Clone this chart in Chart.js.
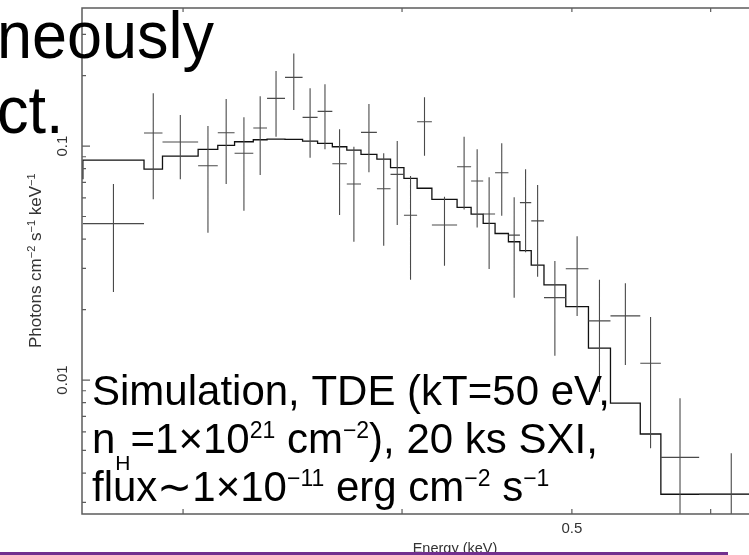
<!DOCTYPE html>
<html>
<head>
<meta charset="utf-8">
<script src="https://cdn.jsdelivr.net/npm/chart.js@4.4.1/dist/chart.umd.min.js"></script>
<style>
	html, body { margin: 0; padding: 0; background: #fff; overflow: hidden; }
	#wrap { position: relative; width: 749px; height: 555px; overflow: hidden; }
	#chart { position: absolute; left: 0; top: 0; }
	#bar { position: absolute; left: 0; top: 552px; width: 728px; height: 3px; background: #72308f; }
</style>
</head>
<body>
<div id="wrap">
	<canvas id="chart" width="830" height="555"></canvas>
	<div id="bar"></div>
</div>
<script>
// energy bins (keV), model and simulated data (photons cm^-2 s^-1 keV^-1)
const binEdges = [0.263, 0.285, 0.292, 0.306, 0.314, 0.321, 0.329, 0.335, 0.343, 0.351, 0.358, 0.365, 0.372, 0.379, 0.387, 0.394, 0.401, 0.408, 0.416, 0.430, 0.438, 0.445, 0.452, 0.460, 0.467, 0.474, 0.482, 0.496, 0.511, 0.526, 0.547, 0.562, 0.591, 0.643];
const modelFlux = [0.0721, 0.0871, 0.0797, 0.0906, 0.0968, 0.1007, 0.1043, 0.1064, 0.1071, 0.1068, 0.1050, 0.1027, 0.0993, 0.0961, 0.0921, 0.0880, 0.0808, 0.0728, 0.0660, 0.0592, 0.0547, 0.0512, 0.0467, 0.0423, 0.0390, 0.0357, 0.0310, 0.0255, 0.0206, 0.0137, 0.00796, 0.00588, 0.00325];
const dataFlux = [0.0466, 0.1137, 0.104, 0.0824, 0.114, 0.0931, 0.1194, 0.1599, 0.1966, 0.1326, 0.1407, 0.084, 0.0688, 0.1144, 0.0657, 0.0757, 0.0506, 0.127, 0.046, 0.0816, 0.0709, 0.0512, 0.0769, 0.0416, 0.0573, 0.0479, 0.0225, 0.0299, 0.0179, 0.0188, 0.0118, 0.00467, 0.00325];
const dataHigh = [0.0688, 0.168, 0.1357, 0.1217, 0.1588, 0.1326, 0.1631, 0.2092, 0.2489, 0.1765, 0.1835, 0.1179, 0.0993, 0.1512, 0.0931, 0.105, 0.0744, 0.1615, 0.0607, 0.1096, 0.0968, 0.0735, 0.1027, 0.0604, 0.0795, 0.0681, 0.0323, 0.0412, 0.0268, 0.0259, 0.0186, 0.00835, 0.00486];
const dataLow = [0.0238, 0.0592, 0.0721, 0.0426, 0.0688, 0.0529, 0.0752, 0.1096, 0.1425, 0.0891, 0.0968, 0.0507, 0.039, 0.0772, 0.0375, 0.046, 0.0268, 0.0909, 0.0308, 0.0536, 0.0449, 0.0298, 0.0504, 0.0225, 0.0352, 0.0276, 0.0127, 0.0188, 0.0089, 0.0116, 0.00511, 0.002, 0.002];

const xRange = [0.2627, 0.70];
const yRange = [0.002676, 0.389];
const xTicks = [0.3, 0.4, 0.5, 0.6];
const xLabels = [0.5];
const yMajor = [0.01, 0.1];
const yMinor = [0.003, 0.004, 0.005, 0.006, 0.007, 0.008, 0.009, 0.02, 0.03, 0.04, 0.05, 0.06, 0.07, 0.08, 0.09, 0.2, 0.3];

const sans = "'Liberation Sans', Arial, sans-serif";

function modelSteps() {
	const pts = modelFlux.map((y, i) => ({ x: binEdges[i], y }));
	pts.push({ x: binEdges[binEdges.length - 1], y: modelFlux[modelFlux.length - 1] });
	return pts;
}

function crosses() {
	const pts = [];
	dataFlux.forEach((y, i) => {
		const lo = binEdges[i];
		const hi = binEdges[i + 1];
		const mid = Math.sqrt(lo * hi);
		pts.push({ x: lo, y }, { x: hi, y }, { x: hi, y: null });
		pts.push({ x: mid, y: dataLow[i] }, { x: mid, y: dataHigh[i] }, { x: mid, y: null });
	});
	return pts;
}

// draws text pieces one after another (for super/subscripts)
function drawRuns(ctx, x, y, runs) {
	let cx = x;
	runs.forEach((r) => {
		ctx.font = r.s + "px " + sans;
		ctx.fillText(r.t, cx, y + (r.dy || 0));
		cx += ctx.measureText(r.t).width;
	});
}

const decor = {
	id: "decor",
	afterDatasetsDraw(chart) {
		const { ctx, chartArea: a } = chart;
		const x = chart.scales.x;
		const y = chart.scales.y;
		ctx.save();

		// frame and inward ticks
		ctx.strokeStyle = "#5c5c5c";
		ctx.lineWidth = 1.5;
		ctx.beginPath();
		ctx.moveTo(a.right, a.top);
		ctx.lineTo(a.left, a.top);
		ctx.lineTo(a.left, a.bottom);
		ctx.lineTo(a.right, a.bottom);
		ctx.stroke();
		ctx.lineWidth = 1.2;
		ctx.beginPath();
		xTicks.forEach((v) => {
			const px = x.getPixelForValue(v);
			ctx.moveTo(px, a.bottom);
			ctx.lineTo(px, a.bottom - 5);
			ctx.moveTo(px, a.top);
			ctx.lineTo(px, a.top + 4);
		});
		yMajor.forEach((v) => {
			const py = y.getPixelForValue(v);
			ctx.moveTo(a.left, py);
			ctx.lineTo(a.left + 8, py);
		});
		yMinor.forEach((v) => {
			const py = y.getPixelForValue(v);
			ctx.moveTo(a.left, py);
			ctx.lineTo(a.left + 4, py);
		});
		ctx.stroke();

		// tick labels
		ctx.fillStyle = "#333";
		ctx.textAlign = "center";
		ctx.font = "15px " + sans;
		xLabels.forEach((v) => ctx.fillText(String(v), x.getPixelForValue(v), 533));
		yMajor.forEach((v) => {
			ctx.save();
			ctx.translate(a.left - 15, y.getPixelForValue(v));
			ctx.rotate(-Math.PI / 2);
			ctx.fillText(String(v), 0, 0);
			ctx.restore();
		});

		// axis titles
		ctx.font = "14.5px " + sans;
		ctx.fillText("Energy (keV)", (a.left + a.right) / 2, 553);
		ctx.textAlign = "left";
		ctx.save();
		ctx.translate(41, 348);
		ctx.rotate(-Math.PI / 2);
		drawRuns(ctx, 0, 0, [
			{ t: "Photons cm", s: 17 },
			{ t: "−2", s: 11, dy: -6 },
			{ t: " s", s: 17 },
			{ t: "−1", s: 11, dy: -6 },
			{ t: " keV", s: 17 },
			{ t: "−1", s: 11, dy: -6 },
		]);
		ctx.restore();

		// slide text lying over the figure
		ctx.fillStyle = "#000";
		ctx.font = "67px " + sans;
		ctx.save();
		ctx.translate(-3, 58);
		ctx.scale(0.94, 1);
		ctx.fillText("neously", 0, 0);
		ctx.restore();
		ctx.save();
		ctx.translate(-3, 133);
		ctx.scale(0.94, 1);
		ctx.fillText("ct.", 0, 0);
		ctx.restore();

		drawRuns(ctx, 92, 405, [{ t: "Simulation, TDE (kT=50 eV,", s: 42 }]);
		drawRuns(ctx, 92, 453, [
			{ t: "n", s: 42 },
			{ t: "H", s: 21, dy: 17 },
			{ t: "=1×10", s: 42 },
			{ t: "21", s: 23, dy: -15 },
			{ t: " cm", s: 42 },
			{ t: "−2", s: 23, dy: -15 },
			{ t: "), 20 ks SXI,", s: 42 },
		]);
		drawRuns(ctx, 92, 501, [
			{ t: "flux∼1×10", s: 42 },
			{ t: "−11", s: 23, dy: -15 },
			{ t: " erg cm", s: 42 },
			{ t: "−2", s: 23, dy: -15 },
			{ t: " s", s: 42 },
			{ t: "−1", s: 23, dy: -15 },
		]);
		ctx.restore();
	},
};

const ctx = document.getElementById("chart").getContext("2d");
new Chart(ctx, {
	type: "line",
	data: {
		datasets: [
			{
				data: crosses(),
				borderColor: "#4a4a4a",
				borderWidth: 1.1,
				pointRadius: 0,
				spanGaps: false,
				fill: false,
			},
			{
				data: modelSteps(),
				stepped: "after",
				borderColor: "#111",
				borderWidth: 1.3,
				pointRadius: 0,
				fill: false,
			},
		],
	},
	options: {
		responsive: false,
		animation: false,
		events: [],
		layout: { padding: { left: 82, top: 8, right: 2, bottom: 41 } },
		plugins: { legend: { display: false }, tooltip: { enabled: false } },
		scales: {
			x: { type: "logarithmic", bounds: "data", min: xRange[0], max: xRange[1], display: false },
			y: { type: "logarithmic", bounds: "data", min: yRange[0], max: yRange[1], display: false },
		},
	},
	plugins: [decor],
});
</script>
</body>
</html>
